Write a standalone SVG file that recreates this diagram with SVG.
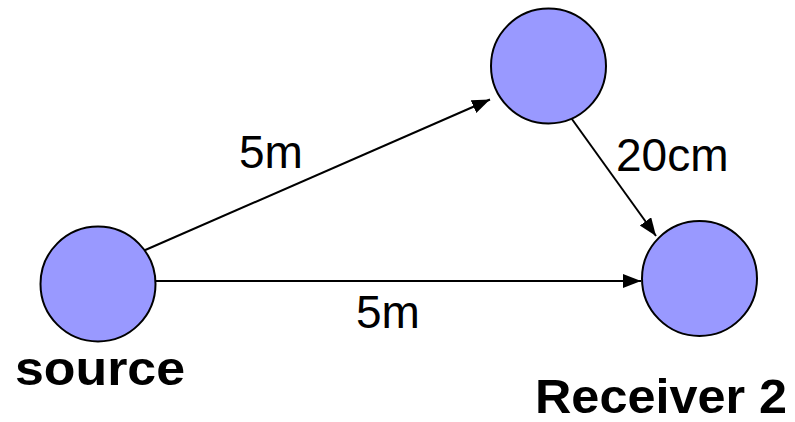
<svg xmlns="http://www.w3.org/2000/svg" width="795" height="422" viewBox="0 0 795 422">
<style>
.node{fill:#9999FF;stroke:#000;stroke-width:2}
.edge{stroke:#000;stroke-width:2;fill:none;marker-end:url(#ah)}
.lbl{font-family:"Liberation Sans",Arial,sans-serif;font-size:46px;fill:#000}
.name{font-family:"Liberation Sans",Arial,sans-serif;font-size:48px;font-weight:bold;fill:#000}
</style>
<defs>
<marker id="ah" markerUnits="userSpaceOnUse" markerWidth="20" markerHeight="16" refX="18" refY="7" orient="auto">
<path d="M0,0 L18,7 L0,14 z" fill="#000"/>
</marker>
</defs>
<rect width="795" height="422" fill="#fff"/>
<g id="connectors">
<line class="edge" x1="143" y1="251" x2="490" y2="99.5"/>
<line class="edge" x1="156" y1="281" x2="641" y2="281"/>
<line class="edge" x1="569" y1="115" x2="656" y2="236"/>
</g>
<g id="source">
<circle class="node" cx="98" cy="284" r="57.5"/>
<text class="name" x="15" y="385" textLength="170" lengthAdjust="spacingAndGlyphs">source</text>
</g>
<g id="relay">
<circle class="node" cx="548.5" cy="66" r="57.5"/>
</g>
<g id="receiver2">
<circle class="node" cx="699.5" cy="278.5" r="57.5"/>
<text class="name" x="535" y="413" textLength="252" lengthAdjust="spacingAndGlyphs">Receiver 2</text>
</g>
<g id="labels">
<text class="lbl" x="239" y="168">5m</text>
<text class="lbl" x="616" y="171">20cm</text>
<text class="lbl" x="356" y="328">5m</text>
</g>
</svg>
